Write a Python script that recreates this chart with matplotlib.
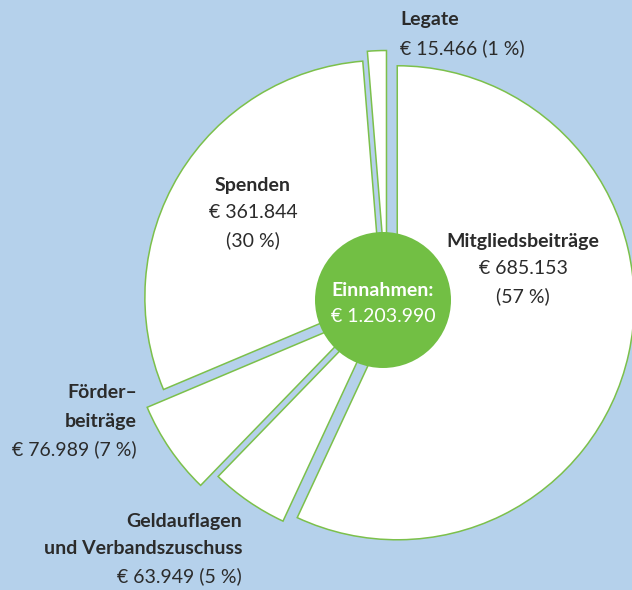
"""Einnahmen: exploded pie chart with centre badge."""

import matplotlib

matplotlib.use("Agg")
import matplotlib.pyplot as plt
from matplotlib.patches import Circle

plt.rcParams["font.family"] = ["Lato", "DejaVu Sans"]

# data, clockwise from 12 o'clock
CATEGORIES = ["Mitgliedsbeiträge", "Geldauflagen und Verbandszuschuss", "Förderbeiträge", "Spenden", "Legate"]
AMOUNTS = [685153, 63949, 76989, 361844, 15466]
AMOUNT_LABELS = ["€ 685.153", "€ 63.949", "€ 76.989", "€ 361.844", "€ 15.466"]
SHARE_LABELS = ["(57 %)", "(5 %)", "(7 %)", "(30 %)", "(1 %)"]
TOTAL_LABEL = "€ 1.203.990"

BG = "#b5d1eb"
LINE_GREEN = "#7cc04b"
BADGE_GREEN = "#72bf44"
TEXT = "#2b2b2b"

W, H = 632, 590
EXPLODE = [10.5, 7, 26, 6, 13]  # pixel offsets


def py(y):
    """Pixel row -> data y."""
    return H - y


fig = plt.figure(figsize=(W / 100, H / 100), dpi=100, facecolor=BG)
ax = fig.add_axes([0, 0, 1, 1])
ax.set_facecolor(BG)

ax.pie(
    AMOUNTS,
    explode=EXPLODE,
    startangle=90,
    counterclock=False,
    radius=237,
    center=(387, py(300.5)),
    colors=["white"] * len(AMOUNTS),
    wedgeprops=dict(edgecolor=LINE_GREEN, linewidth=1.1),
)
ax.add_patch(Circle((383, py(300)), 68, facecolor=BADGE_GREEN, edgecolor="none", zorder=5))

ax.set_xlim(0, W)
ax.set_ylim(0, H)
ax.set_aspect("equal")
ax.axis("off")

fs = 14

# centre badge
ax.text(383, py(290), "Einnahmen:", color="white", fontsize=fs, fontweight="bold",
        ha="center", va="center", zorder=6)
ax.text(383, py(316), TOTAL_LABEL, color="white", fontsize=fs, ha="center", va="center", zorder=6)

# Mitgliedsbeiträge
ax.text(523, py(241), CATEGORIES[0], color=TEXT, fontsize=fs, fontweight="bold", ha="center", va="center")
ax.text(523, py(268), AMOUNT_LABELS[0], color=TEXT, fontsize=fs, ha="center", va="center")
ax.text(523, py(296), SHARE_LABELS[0], color=TEXT, fontsize=fs, ha="center", va="center")

# Spenden
ax.text(253, py(186), CATEGORIES[3], color=TEXT, fontsize=fs, fontweight="bold", ha="center", va="center")
ax.text(253, py(213), AMOUNT_LABELS[3], color=TEXT, fontsize=fs, ha="center", va="center")
ax.text(253, py(240), SHARE_LABELS[3], color=TEXT, fontsize=fs, ha="center", va="center")

# Legate
ax.text(400, py(20), CATEGORIES[4], color=TEXT, fontsize=fs, fontweight="bold", ha="left", va="center")
ax.text(400, py(48), f"{AMOUNT_LABELS[4]} {SHARE_LABELS[4]}", color=TEXT, fontsize=fs, ha="left", va="center")

# Förderbeiträge
ax.text(137, py(393), "Förder–", color=TEXT, fontsize=fs, fontweight="bold", ha="right", va="center")
ax.text(137, py(422), "beiträge", color=TEXT, fontsize=fs, fontweight="bold", ha="right", va="center")
ax.text(137, py(449), f"{AMOUNT_LABELS[2]} {SHARE_LABELS[2]}", color=TEXT, fontsize=fs, ha="right", va="center")

# Geldauflagen und Verbandszuschuss
ax.text(242, py(521), "Geldauflagen", color=TEXT, fontsize=fs, fontweight="bold", ha="right", va="center")
ax.text(242, py(548), "und Verbandszuschuss", color=TEXT, fontsize=fs, fontweight="bold", ha="right", va="center")
ax.text(242, py(576), f"{AMOUNT_LABELS[1]} {SHARE_LABELS[1]}", color=TEXT, fontsize=fs, ha="right", va="center")

fig.savefig("out.png", dpi=100, facecolor=BG)
